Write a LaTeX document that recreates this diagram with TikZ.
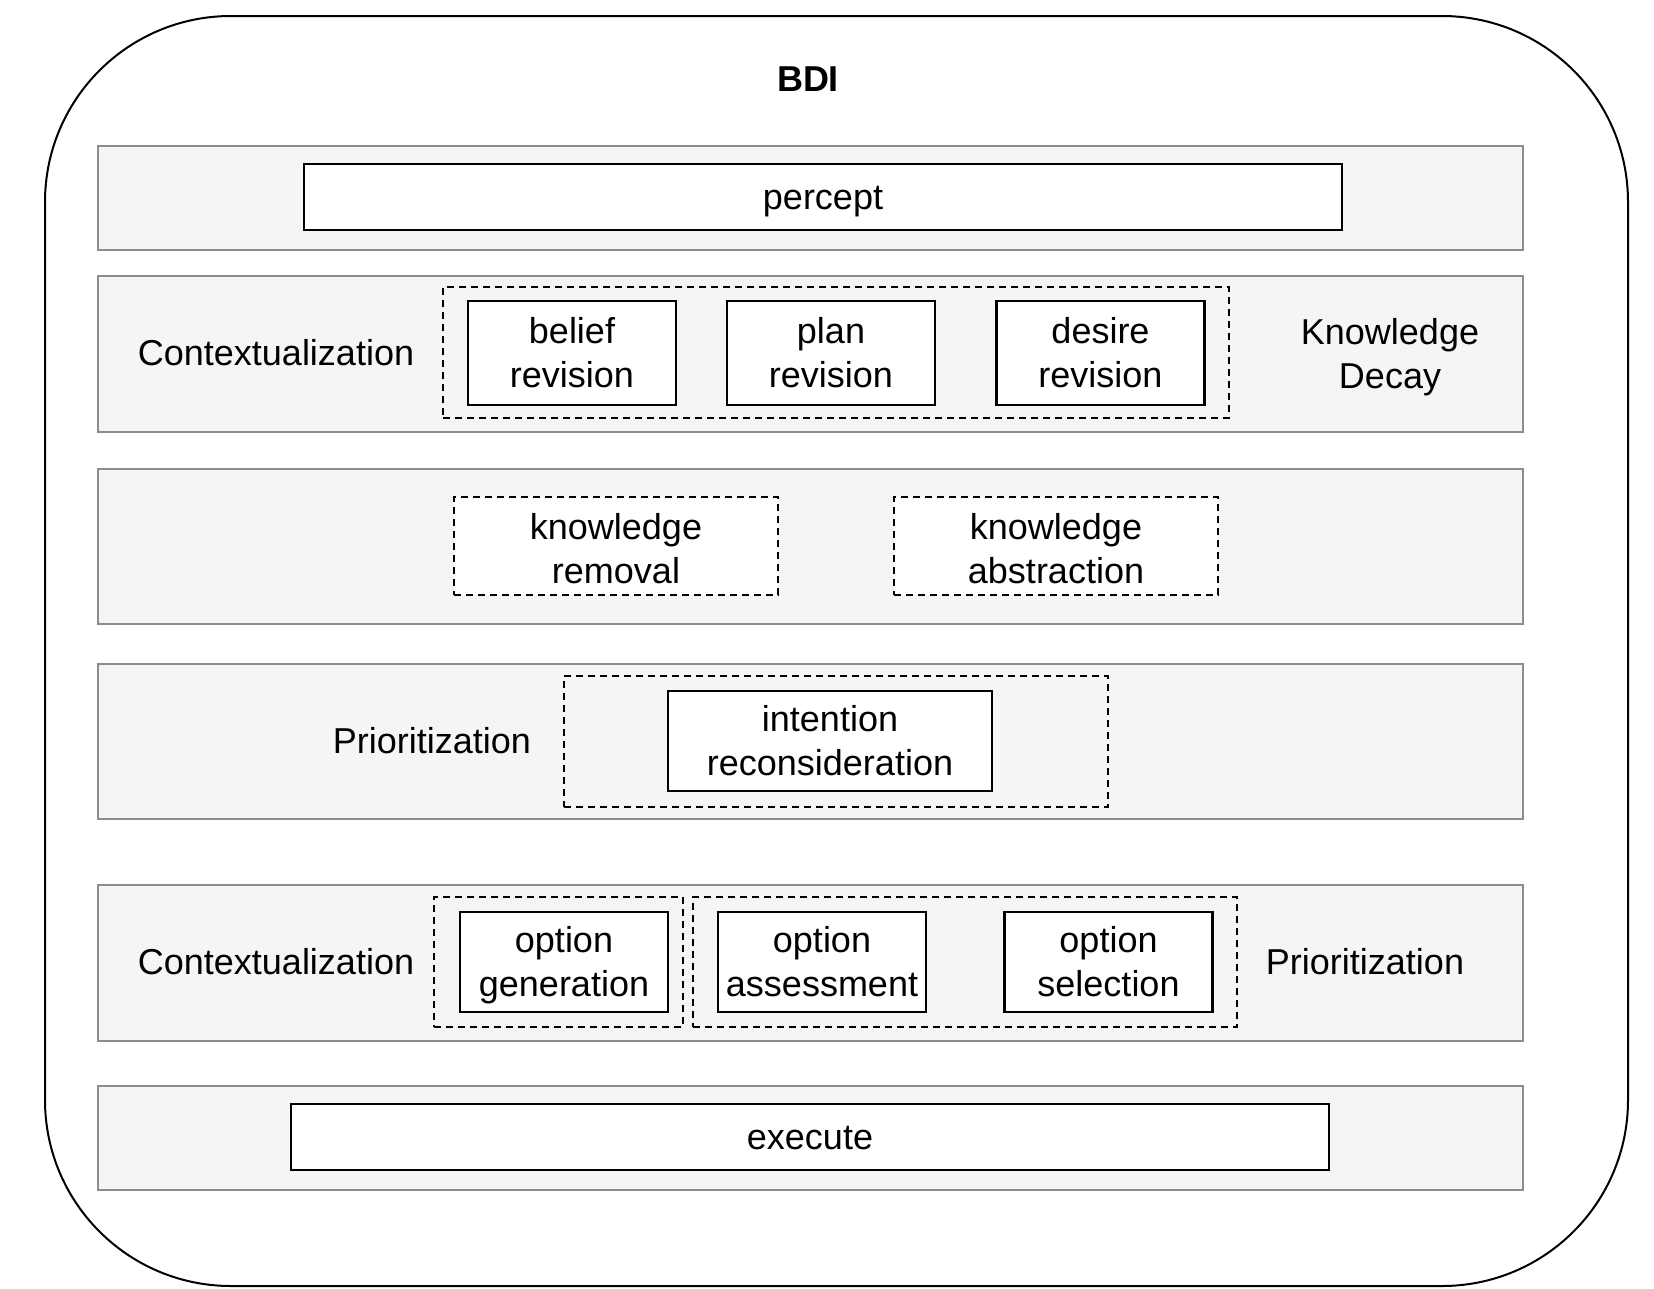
\documentclass[tikz,border=0pt]{standalone}
\usepackage{fontspec}
\setmainfont{Liberation Sans}
\newcommand{\topstrut}{\rule[-13.2pt]{0pt}{52.2pt}}
\newcommand{\shortstrut}{\rule[-7.2pt]{0pt}{7.2pt}}
\begin{document}
\begin{tikzpicture}[x=1pt,y=-1pt,
  txt/.style={font=\fontsize{36}{44}\selectfont, align=center, inner sep=2pt},
  band/.style={draw=black!45, line width=2.2pt, fill=black!4, anchor=north west, inner sep=0pt},
  box/.style={txt, draw=black, line width=2.4pt, fill=white},
  group/.style={draw=black, line width=2pt, dash pattern=on 7pt off 5pt},
  dbox/.style={txt, draw=black, line width=2pt, dash pattern=on 7pt off 5pt, fill=white}]
\useasboundingbox (0,0) rectangle (1654,1288);
% outer frame
\draw[line width=2pt, rounded corners=186pt] (45,16) rectangle (1628,1286);
\node[font=\fontsize{36}{44}\selectfont\bfseries] (bdi) at (808,79) {\topstrut BDI};
% bands
\node[band, minimum width=1425pt, minimum height=104pt] (b1) at (97,145) {};
\node[band, minimum width=1425pt, minimum height=156pt] (b2) at (97,275) {};
\node[band, minimum width=1425pt, minimum height=155pt] (b3) at (97,468) {};
\node[band, minimum width=1425pt, minimum height=155pt] (b4) at (97,663) {};
\node[band, minimum width=1425pt, minimum height=156pt] (b5) at (97,884) {};
\node[band, minimum width=1425pt, minimum height=104pt] (b6) at (97,1085) {};
% band 1
\node[box, minimum width=1038pt, minimum height=66pt] (percept) at (823,197) {\topstrut percept};
% band 2
\node[group, minimum width=786pt, minimum height=131pt] (g2) at (836,352.5) {};
\node[box, minimum width=208pt, minimum height=104pt] (belief) at (572,353) {\topstrut belief\\revision\strut};
\node[box, minimum width=208pt, minimum height=104pt] (plan) at (831,353) {\topstrut plan\\revision\strut};
\node[box, minimum width=208pt, minimum height=104pt] (desire) at (1100.5,353) {\topstrut desire\\revision\strut};
\node[txt] (ctx1) at (276,353) {\topstrut Contextualization};
\node[txt] (kd) at (1390,354) {\topstrut Knowledge\\Decay\strut};
% band 3
\node[dbox, minimum width=324pt, minimum height=98pt] (krem) at (616,546) {\topstrut knowledge\\removal\shortstrut};
\node[dbox, minimum width=324pt, minimum height=98pt] (kabs) at (1056,546) {\topstrut knowledge\\abstraction\shortstrut};
% band 4
\node[group, minimum width=544pt, minimum height=131pt] (g4) at (836,741.5) {};
\node[box, minimum width=324pt, minimum height=98pt] (intent) at (830,741) {\topstrut intention\\reconsideration\strut};
\node[txt] (prio1) at (432,741) {\topstrut Prioritization};
% band 5
\node[group, minimum width=249pt, minimum height=130pt] (g5a) at (558.5,962) {};
\node[group, minimum width=544pt, minimum height=130pt] (g5b) at (965,962) {};
\node[box, minimum width=208pt, minimum height=98pt] (ogen) at (564,962) {\topstrut option\\generation\strut};
\node[box, minimum width=208pt, minimum height=98pt] (oass) at (822,962) {\topstrut option\\assessment\strut};
\node[box, minimum width=208pt, minimum height=98pt] (osel) at (1108.5,962) {\topstrut option\\selection\strut};
\node[txt] (ctx2) at (276,962) {\topstrut Contextualization};
\node[txt] (prio2) at (1365,962) {\topstrut Prioritization};
% band 6
\node[box, minimum width=1038pt, minimum height=66pt] (execute) at (810,1137) {\topstrut execute};
\end{tikzpicture}
\end{document}
